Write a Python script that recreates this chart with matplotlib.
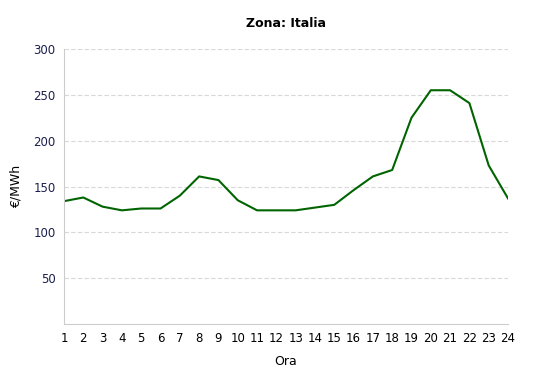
import matplotlib.pyplot as plt

hours = list(range(1, 25))
prices = [134, 138, 128, 124, 126, 126, 140, 161, 157, 135, 124, 124,
          124, 127, 130, 146, 161, 168, 225, 255, 255, 241, 173, 137]
y_ticks = [50, 100, 150, 200, 250, 300]

fig = plt.figure(figsize=(5.42, 3.76), dpi=100)
ax = fig.add_axes([64 / 542, 1 - 324 / 376, (508 - 64) / 542, (324 - 49) / 376])

ax.plot(hours, prices, color="#006400", linewidth=1.5)

ax.set_xlim(1, 24)
ax.set_ylim(0, 300)
ax.set_xticks(hours)
ax.set_yticks(y_ticks)
ax.tick_params(length=0, labelsize=8.5)
ax.tick_params(axis="x", pad=6, colors="black")
ax.tick_params(axis="y", pad=6, labelcolor="#1a1f4d")

ax.grid(axis="y", color="#d8d8d8", linestyle=(0, (4, 2)), linewidth=0.8)
for side in ["top", "right"]:
    ax.spines[side].set_visible(False)
for side in ["left", "bottom"]:
    ax.spines[side].set_color("#cccccc")

ax.set_title("Zona: Italia", fontsize=9, fontweight="bold", pad=16)
ax.set_xlabel("Ora", fontsize=9, labelpad=7)
ax.set_ylabel("€/MWh", fontsize=9, labelpad=8)

fig.savefig("out.png", dpi=100)
